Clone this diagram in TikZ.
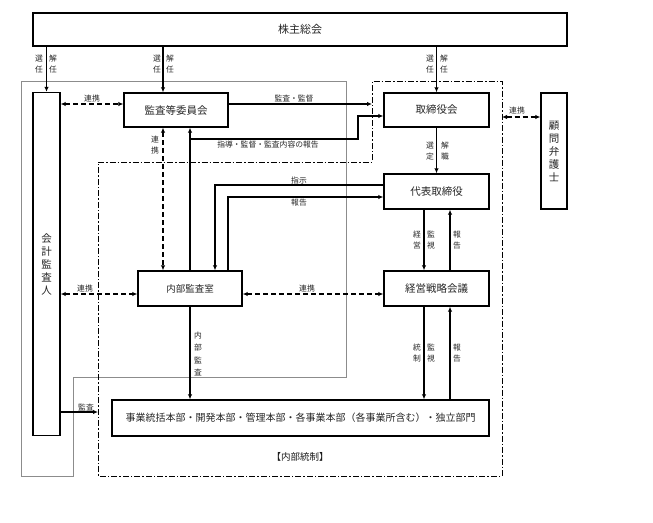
\documentclass[tikz,border=0pt]{standalone}
\usepackage{fontspec}
\newfontfamily\jp{Noto Sans CJK JP}
\usetikzlibrary{arrows.meta}
\tikzset{
  box/.style={draw, line width=1.4pt, inner sep=0pt, text=black!85, font=\jp\fontsize{10.5}{13}\selectfont, align=center},
  arr/.style={line width=1.2pt, -{Latex[length=5pt,width=4.5pt]}},
  dbl/.style={line width=1.2pt, dash pattern=on 5pt off 3pt, {Latex[length=5pt,width=4.5pt]}-{Latex[length=5pt,width=4.5pt]}},
  lbl/.style={font=\jp\fontsize{7.8}{11}\selectfont, inner sep=0pt, align=center, text=black!85},
  grayline/.style={draw=black!45, line width=0.8pt},
  dashdot/.style={draw, line width=0.9pt, dash pattern=on 6pt off 2pt on 1.5pt off 2pt},
}
\begin{document}
\begin{tikzpicture}[x=1pt,y=-1pt]
\useasboundingbox (0,0) rectangle (653,522);
% regions
\draw[grayline] (21,81) -- (346,81) -- (346,377) -- (73,377) -- (73,476) -- (21,476) -- cycle;
\draw[dashdot] (98,162) -- (372,162) -- (372,81) -- (502,81) -- (502,476) -- (98,476) -- cycle;
% boxes
\node[box, minimum width=534pt, minimum height=33pt, font=\jp\fontsize{11}{13}\selectfont] (kabu) at (300,29.5) {株主総会};
\node[box, minimum width=27pt, minimum height=343pt] (kaikei) at (46.5,264) {会\\計\\監\\査\\人};
\node[box, minimum width=104pt, minimum height=34pt] (kansa) at (176,110) {監査等委員会};
\node[box, minimum width=105pt, minimum height=34pt] (tori) at (436.5,110) {取締役会};
\node[box, minimum width=26pt, minimum height=116pt] (komon) at (554,151) {顧\\問\\弁\\護\\士};
\node[box, minimum width=105pt, minimum height=35pt] (daihyo) at (436.5,191.5) {代表取締役};
\node[box, minimum width=104pt, minimum height=35pt, font=\jp\fontsize{9.5}{12}\selectfont] (naibu) at (190,288.5) {内部監査室};
\node[box, minimum width=105pt, minimum height=35pt] (keiei) at (436.5,288.5) {経営戦略会議};
\node[box, minimum width=377pt, minimum height=36pt, font=\jp\fontsize{10}{12}\selectfont] (jigyo) at (300.5,418) {事業統括本部・開発本部・管理本部・各事業本部（各事業所含む）・独立部門};
\node[lbl, font=\jp\fontsize{9.5}{12}\selectfont, text=black!90] (naibutousei) at (300,457) {【内部統制】};
% helper coordinates
\coordinate (c163) at (163,0);
\coordinate (c190) at (190,0);
\coordinate (c424) at (424,0);
\coordinate (c450) at (450,0);
\coordinate (y104) at (0,104);
\coordinate (y294) at (0,294);
\coordinate (ctrlin) at (372,104);
\coordinate (r1) at (190,139);
\coordinate (r2) at (358,116);
\coordinate (s1) at (215,185);
\coordinate (h1) at (228,197);
\coordinate (kin) at (98,412);
\coordinate (kout) at (502,117);
% connectors from kabu
\draw[arr] (kaikei.north |- kabu.south) -- (kaikei.north);
\draw[arr] (c163 |- kabu.south) -- (c163 |- kansa.north);
\draw[arr] (tori.north |- kabu.south) -- (tori.north);
\node[lbl] (l1a) at (39,64.5) {選\\任};
\node[lbl] (l1b) at (53,64.5) {解\\任};
\node[lbl] (l2a) at (157,64.5) {選\\任};
\node[lbl] (l2b) at (170,64.5) {解\\任};
\node[lbl] (l3a) at (430,64.5) {選\\任};
\node[lbl] (l3b) at (444,64.5) {解\\任};
% kaikei - kansa
\draw[dbl] (kaikei.east |- y104) -- (kansa.west |- y104);
\node[lbl] (l4) at (92,99) {連携};
% kansa -> tori
\draw[arr] (kansa.east |- y104) -- (ctrlin);
\node[lbl] (l5) at (294,99) {監査・監督};
% naibu -> kansa and tori
\draw[arr] (c190 |- naibu.north) -- (c190 |- kansa.south);
\draw[arr] (r1) -| (r2) -- (r2 -| tori.west);
\node[lbl] (l6) at (268,145) {指導・監督・監査内容の報告};
% kansa <-> naibu
\draw[dbl] (c163 |- kansa.south) -- (c163 |- naibu.north);
\node[lbl] (l7) at (155,145) {連\\携};
% daihyo -> naibu
\draw[arr] (daihyo.west |- s1) -| (s1 |- naibu.north);
\node[lbl] (l8) at (299,180.5) {指示};
\draw[arr] (h1 |- naibu.north) |- (daihyo.west |- h1);
\node[lbl] (l9) at (299,203) {報告};
% renkei lines at 294
\draw[dbl] (kaikei.east |- y294) -- (naibu.west |- y294);
\node[lbl] (l10) at (85,289) {連携};
\draw[dbl] (naibu.east |- y294) -- (keiei.west |- y294);
\node[lbl] (l11) at (307,289) {連携};
% naibu -> jigyo
\draw[arr] (c190 |- naibu.south) -- (c190 |- jigyo.north);
\node[lbl, font=\jp\fontsize{7.8}{12.3}\selectfont] (l12) at (198,354) {内\\部\\監\\査};
% kaikei -> internal control
\draw[arr] (kaikei.east |- kin) -- (kin);
\node[lbl] (l13) at (86,407) {監査};
% tori -> daihyo
\draw[arr] (tori.south) -- (daihyo.north);
\node[lbl] (l14) at (430,151) {選\\定};
\node[lbl] (l15) at (445,151) {解\\職};
% daihyo <-> keiei
\draw[arr] (c424 |- daihyo.south) -- (c424 |- keiei.north);
\draw[arr] (c450 |- keiei.north) -- (c450 |- daihyo.south);
\node[lbl] (l16) at (417,240) {経\\営};
\node[lbl] (l17) at (431,240) {監\\視};
\node[lbl] (l18) at (457,240) {報\\告};
% keiei <-> jigyo
\draw[arr] (c424 |- keiei.south) -- (c424 |- jigyo.north);
\draw[arr] (c450 |- jigyo.north) -- (c450 |- keiei.south);
\node[lbl] (l19) at (417,353) {統\\制};
\node[lbl] (l20) at (431,353) {監\\視};
\node[lbl] (l21) at (457,353) {報\\告};
% komon
\draw[dbl] (kout) -- (komon.west |- kout);
\node[lbl] (l22) at (517,111) {連携};
\end{tikzpicture}
\end{document}
